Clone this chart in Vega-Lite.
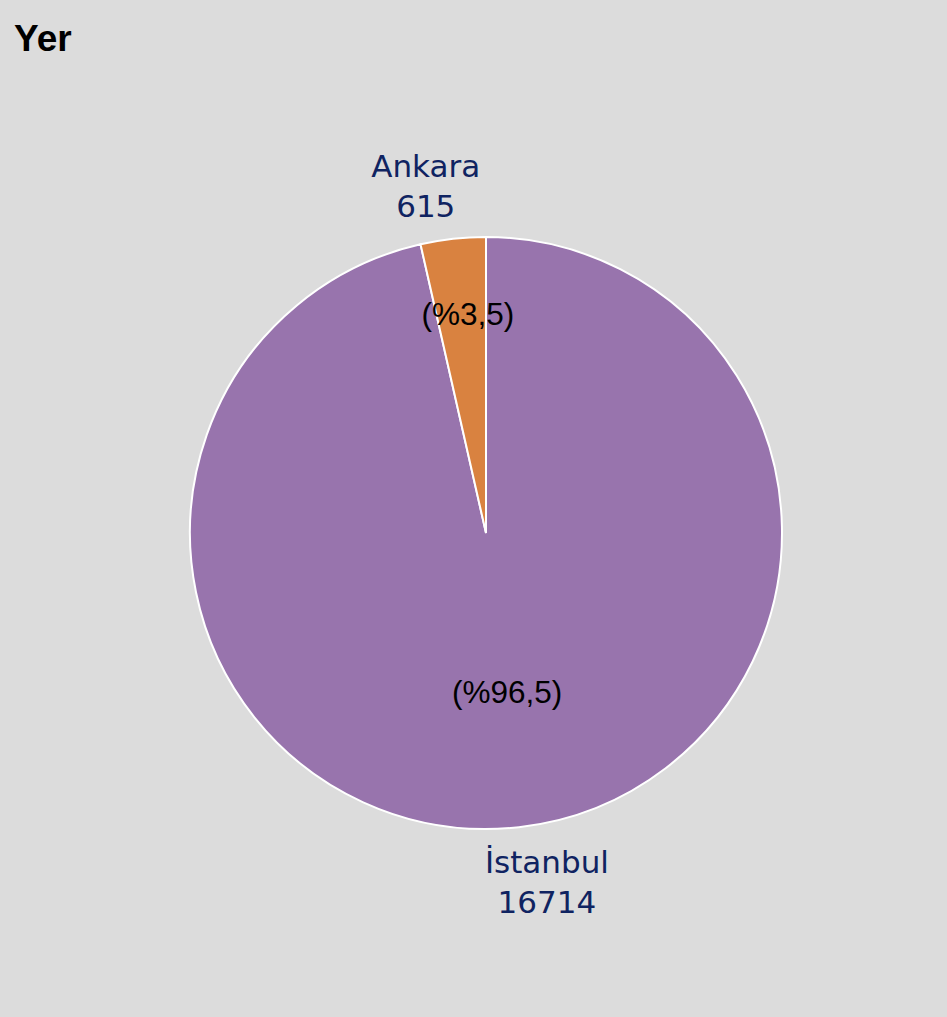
{
  "$schema": "https://vega.github.io/schema/vega-lite/v6.json",
  "autosize": "none",
  "width": 922,
  "height": 968,
  "padding": {"left": 25, "top": 49, "right": 0, "bottom": 0},
  "background": "#dcdcdc",
  "title": {
    "text": "Yer",
    "anchor": "start",
    "orient": "top",
    "offset": 0,
    "baseline": "alphabetic",
    "dx": -11,
    "dy": 39,
    "font": "Liberation Sans",
    "fontSize": 37,
    "fontWeight": "bold",
    "color": "#000000"
  },
  "config": {"view": {"stroke": null}},
  "data": {
    "values": [
      {"city": "İstanbul", "value": 16714, "pct": "(%96,5)"},
      {"city": "Ankara", "value": 615, "pct": "(%3,5)"}
    ]
  },
  "transform": [
    {"calculate": "datum.city + '\\n' + datum.value", "as": "label"}
  ],
  "encoding": {
    "theta": {"field": "value", "type": "quantitative", "stack": true},
    "order": {"field": "value", "type": "quantitative", "sort": "descending"}
  },
  "layer": [
    {
      "mark": {"type": "arc", "stroke": "#ffffff", "strokeWidth": 2},
      "encoding": {
        "radius": {"value": 296},
        "color": {
          "field": "city",
          "type": "nominal",
          "scale": {"domain": ["İstanbul", "Ankara"], "range": ["#9874ad", "#d98240"]},
          "legend": null
        }
      }
    },
    {
      "mark": {"type": "text", "font": "Liberation Sans", "fontSize": 31.5, "color": "#000000", "align": "center", "baseline": "middle",
        "radius": {"expr": "datum.city === 'Ankara' ? 218 : 162"},
        "thetaOffset": {"expr": "datum.city === 'Ankara' ? 0.028 : -0.019"}},
      "encoding": {
        "text": {"field": "pct", "type": "nominal"}
      }
    },
    {
      "mark": {"type": "text", "font": "DejaVu Sans", "fontSize": 31, "color": "#0f2361", "align": "center", "baseline": "middle", "lineBreak": "\n", "lineHeight": 40, "thetaOffset": -0.061, "dy": -19,
        "radius": {"expr": "datum.city === 'Ankara' ? 351 : 355"}},
      "encoding": {
        "text": {"field": "label", "type": "nominal"}
      }
    }
  ]
}
